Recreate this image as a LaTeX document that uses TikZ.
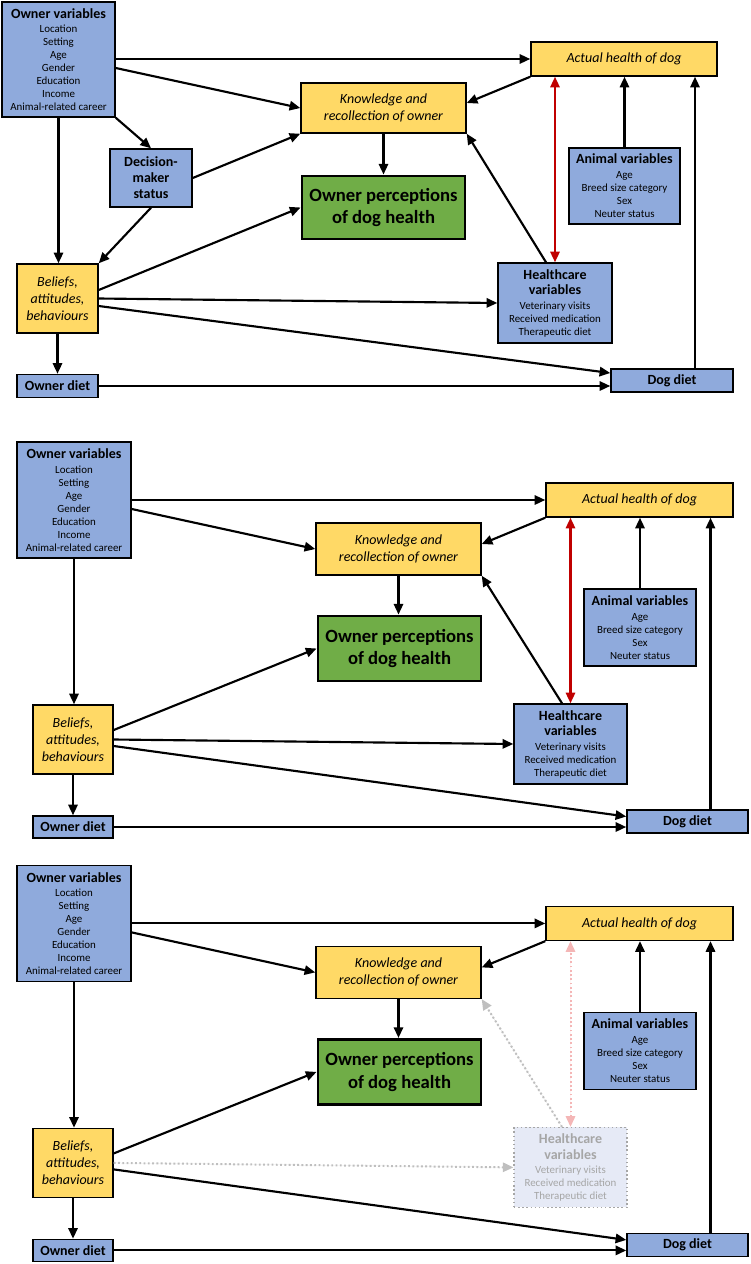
\documentclass[tikz,border=0pt]{standalone}
\usepackage{fontspec}
\setmainfont{Carlito}
\usetikzlibrary{arrows.meta,calc}
\definecolor{boxblue}{HTML}{8FAADC}
\definecolor{boxyellow}{HTML}{FFD966}
\definecolor{boxgreen}{HTML}{70AD47}
\definecolor{darkred}{HTML}{C00000}
\definecolor{fadegray}{HTML}{BFBFBF}
\definecolor{fadetext}{HTML}{A6A6A6}
\definecolor{fadepink}{HTML}{F4B6B6}
\definecolor{fadefill}{HTML}{E6EAF6}
\newcommand\boxtitle[1]{{\bfseries\fontsize{10.5}{12}\selectfont #1}}
\tikzset{
 sz/.style 2 args={minimum width=#1*0.75pt, minimum height=#2*0.75pt},
 basebox/.style={draw=black, line width=1.1pt, inner sep=0pt, align=center, text=black},
 bluebox/.style={basebox, fill=boxblue},
 yellowbox/.style={basebox, fill=boxyellow, font=\itshape\fontsize{10.5}{12.75}\selectfont},
 greenbox/.style={basebox, fill=boxgreen, line width=2.2pt, font=\bfseries\fontsize{14}{17}\selectfont},
 listbox/.style={bluebox, font=\fontsize{8.2}{9.75}\selectfont},
 titlebox/.style={bluebox, font=\bfseries\fontsize{10.5}{12}\selectfont},
 fadebox/.style={basebox, draw=fadetext, dotted, line width=0.8pt, fill=fadefill, text=fadetext, font=\fontsize{8.2}{9.75}\selectfont},
 tip/.tip={Triangle[length=8pt,width=7pt]},
 arr/.style={line width=1.6pt, -tip},
 redarr/.style={line width=1.6pt, draw=darkred, fill=darkred, tip-tip},
 fadearr/.style={line width=1.5pt, draw=fadegray, fill=fadegray, dash pattern=on 1.4pt off 1.8pt, -tip},
 fadered/.style={line width=1.5pt, draw=fadepink, fill=fadepink, dash pattern=on 1.4pt off 1.8pt, tip-tip},
 hcbox2/.style={listbox}, hcbox3/.style={fadebox},
 hcarr2/.style={arr}, hcarr3/.style={fadearr},
 redarr2/.style={redarr}, redarr3/.style={fadered},
}
\newcommand\ovtext{\boxtitle{Owner variables}\\[1pt] Location\\ Setting\\ Age\\ Gender\\ Education\\ Income\\ Animal-related career}
\newcommand\avtext{\boxtitle{Animal variables}\\[1.5pt] Age\\ Breed size category\\ Sex\\ Neuter status}
\newcommand\hctext{\boxtitle{Healthcare}\\[2pt]\boxtitle{variables}\\[1pt] Veterinary visits\\ Received medication\\ Therapeutic diet}
\newcommand\lowerpanel[2]{%
 \node[listbox, sz={114}{116}] (ov#1) at (74,500+#2) {\ovtext};
 \node[yellowbox, sz={187}{34}] (ah#1) at (639.5,500+#2) {Actual health of dog};
 \node[yellowbox, sz={165}{52}] (kr#1) at (398.5,549+#2) {Knowledge and\\recollection of owner};
 \node[greenbox, sz={163}{65}] (gr#1) at (399.5,648.5+#2) {Owner perceptions\\of dog health};
 \node[listbox, sz={112}{77}] (av#1) at (640,627.5+#2) {\avtext};
 \node[hcbox#1, sz={113}{80}] (hc#1) at (570.5,744+#2) {\hctext};
 \node[yellowbox, sz={80}{69}] (bab#1) at (73,739.5+#2) {Beliefs,\\attitudes,\\behaviours};
 \node[titlebox, sz={80}{22}] (od#1) at (73,827+#2) {Owner diet};
 \node[titlebox, sz={121}{23}] (dd#1) at (687.5,821.5+#2) {Dog diet};
 \coordinate (ddtop#1) at ($(dd#1.north)+(23,0)$);
 \draw[arr] (ov#1.east |- ah#1.west) -- (ah#1.west);
 \draw[arr] ($(ov#1.east)+(0,9)$) -- (kr#1.west);
 \draw[arr] (ov#1.south) -- (ov#1.south |- bab#1.north);
 \draw[arr] (kr#1.south) -- (kr#1.south |- gr#1.north);
 \draw[arr] (ah#1.south west) -- ($(kr#1.east)+(0,-5)$);
 \draw[arr] (av#1.north) -- (av#1.north |- ah#1.south);
 \draw[arr] (ddtop#1) -- (ddtop#1 |- ah#1.south);
 \draw[arr] ($(bab#1.east)+(0,-9.5)$) -- (gr#1.west);
 \draw[arr] ($(bab#1.east)+(0,6.5)$) -- ($(dd#1.west)+(0,-5)$);
 \draw[arr] (bab#1.south) -- (bab#1.south |- od#1.north);
 \draw[arr] (od#1.east) -- (od#1.east -| dd#1.west);
 \draw[hcarr#1] (bab#1.east) -- (hc#1.west);
 \draw[hcarr#1] ($(hc#1.north)+(-8.5,0)$) -- (kr#1.south east);
 \draw[redarr#1] (hc#1.north) -- (hc#1.north |- ah#1.south);
}
\begin{document}
\begin{tikzpicture}[x=0.75pt,y=-0.75pt]
\useasboundingbox (0,0) rectangle (750,1264);
% ---------- panel 1 ----------
\node[listbox, sz={113}{115}] (ov1) at (58.5,59.5) {\ovtext};
\node[yellowbox, sz={186}{34}] (ah1) at (624,59) {Actual health of dog};
\node[yellowbox, sz={165}{50}] (kr1) at (383.5,108) {Knowledge and\\recollection of owner};
\node[titlebox, sz={82}{58}] (dm1) at (151,178) {Decision-\\maker\\status};
\node[greenbox, sz={163}{63}] (gr1) at (383.5,207.5) {Owner perceptions\\of dog health};
\node[listbox, sz={111}{76}] (av1) at (624.5,186) {\avtext};
\node[listbox, sz={114}{80}] (hc1) at (555,303) {\hctext};
\node[yellowbox, sz={81}{69}] (bab1) at (57.5,298.5) {Beliefs,\\attitudes,\\behaviours};
\node[titlebox, sz={81}{23}] (od1) at (57.5,386) {Owner diet};
\node[titlebox, sz={122}{23}] (dd1) at (672,380.5) {Dog diet};
\coordinate (ddtop1) at ($(dd1.north)+(23,0)$);
\draw[arr] (ov1.east |- ah1.west) -- (ah1.west);
\draw[arr] ($(ov1.east)+(0,8.5)$) -- (kr1.west);
\draw[arr] (ov1.south east) -- (dm1.north);
\draw[arr] (dm1.east) -- (kr1.south west);
\draw[arr] (ov1.south) -- (ov1.south |- bab1.north);
\draw[arr] (dm1.south) -- (bab1.north east);
\draw[arr] (kr1.south) -- (gr1.north);
\draw[arr] ($(bab1.east)+(0,-8.5)$) -- (gr1.west);
\draw[arr] (bab1.east) -- (hc1.west);
\draw[arr] ($(bab1.east)+(0,7.5)$) -- ($(dd1.west)+(0,-7.5)$);
\draw[arr] (bab1.south) -- (od1.north);
\draw[arr] (od1.east) -- (od1.east -| dd1.west);
\draw[arr] (ah1.south west) -- ($(kr1.east)+(0,-5)$);
\draw[arr] (av1.north) -- (av1.north |- ah1.south);
\draw[arr] (ddtop1) -- (ddtop1 |- ah1.south);
\draw[arr] ($(hc1.north)+(-9,0)$) -- (kr1.south east);
\draw[redarr] (hc1.north) -- (hc1.north |- ah1.south);
% ---------- panels 2 and 3 ----------
\lowerpanel{2}{0}
\lowerpanel{3}{423.4}
\end{tikzpicture}
\end{document}
